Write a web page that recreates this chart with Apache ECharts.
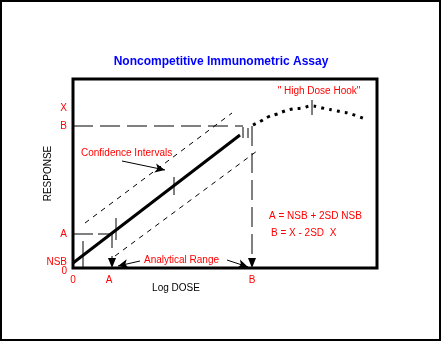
<!DOCTYPE html>
<html><head><meta charset="utf-8">
<script src="https://cdn.jsdelivr.net/npm/echarts@6/dist/echarts.min.js"></script>
<style>html,body{margin:0;padding:0;background:#fff}#c{width:442px;height:342px}</style>
</head><body><div id="c"></div>
<script>
// Axis tick labels (data units of the plot: x = log dose, y = response)
const xTickValues = [0, 36, 179];
const xTickLabels = ['0', 'A', 'B'];
const yTickValues = [0, 6, 34, 142, 160];
const yTickLabels = ['0', 'NSB', 'A', 'B', 'X'];

// Curves
const responseLine = [[0, 5], [167, 133]];
const upperCI = [[12, 45], [159, 155]];
const lowerCI = [[42, 12], [184, 117]];
const hookCurve = [[180, 143], [188, 147], [195, 151], [204, 154], [212, 157], [220, 159], [229, 160],
  [239, 162], [245, 161], [254, 159], [260, 158], [269, 156], [275, 155], [284, 152], [292, 149]];

// Reference levels and drop lines
const levelB = [[0, 142], [170, 142]];
const levelA = [[0, 34], [39, 34]];
const dropA = [[39, 34], [39, 5]];
const dropB = [[179, 142], [179, 5]];

// Error bars: [x, yLow, yHigh]
const errorBars = [[10, 1, 27], [43, 28, 50], [101, 73, 91], [170, 130, 141], [175, 130, 140], [239, 153, 168]];

// Annotation arrows: [fromX, fromY, toX, toY]
const noteArrows = [[49, 107, 92, 98], [67, 7, 45, 2], [154, 8, 175, 1]];

const RED = '#ff0000';
const FONT = '"Liberation Sans", Arial, sans-serif';

const chart = echarts.init(document.getElementById('c'), null, {renderer: 'canvas'});

function lineSeries(data, width, type, extra) {
  return Object.assign({
    type: 'line', data: data, symbol: 'none', silent: true, animation: false,
    lineStyle: {color: '#000', width: width, type: type, cap: 'butt'},
    itemStyle: {color: '#000'}
  }, extra || {});
}

function dropData(d) {
  return [d[0], {value: d[1], symbol: 'triangle', symbolSize: [8, 10], symbolRotate: 180}];
}

const series = [
  lineSeries(responseLine, 3, 'solid', {
    markLine: {
      silent: true, animation: false, symbol: ['none', 'arrow'], symbolSize: [7, 10],
      lineStyle: {color: '#000', width: 1, type: 'solid'}, label: {show: false},
      data: noteArrows.map(a => [{coord: [a[0], a[1]]}, {coord: [a[2], a[3]]}])
    }
  }),
  lineSeries(upperCI, 1, [5, 5]),
  lineSeries(lowerCI, 1, [5, 5]),
  lineSeries(hookCurve, 3, [3, 5], {smooth: true}),
  lineSeries(levelB, 1, [20, 7]),
  lineSeries(levelA, 1, [20, 5]),
  lineSeries(dropData(dropA), 1, [14, 8], {showSymbol: true}),
  lineSeries(dropData(dropB), 1, [20, 7], {showSymbol: true})
];
errorBars.forEach(b => series.push(lineSeries([[b[0], b[1]], [b[0], b[2]]], 1, 'solid')));

const textStyle = (x, y, t, color, extra) => ({
  type: 'text', x: x, y: y, silent: true,
  style: Object.assign({text: t, fill: color, font: '10px ' + FONT, verticalAlign: 'middle'}, extra || {})
});

// Split the y tick labels over two axes so that the close "0" and "NSB" labels are both drawn
const yMainIdx = yTickValues.map((v, i) => i).filter(i => yTickLabels[i] !== 'NSB');
const yAltIdx = yTickValues.map((v, i) => i).filter(i => yTickLabels[i] === 'NSB');
const labelFor = v => yTickLabels[yTickValues.indexOf(v)];

const yAxisBase = (vals, extra) => Object.assign({
  type: 'value', min: 0, max: 189, position: 'left', offset: 0,
  axisLine: {show: false}, axisTick: {show: false}, splitLine: {show: false},
  axisLabel: {
    customValues: vals, color: RED, fontSize: 10, fontFamily: FONT, margin: 6,
    showMinLabel: true, showMaxLabel: true, hideOverlap: false,
    formatter: v => v === 0 ? '{z|0}' : labelFor(v),
    rich: {z: {color: RED, fontSize: 10, fontFamily: FONT, padding: [7, 0, 0, 0]}}
  }
}, extra || {});

chart.setOption({
  animation: false,
  backgroundColor: '#fff',
  title: {
    text: 'Noncompetitive Immunometric Assay', left: 'center', top: 51,
    textStyle: {color: '#0000ff', fontSize: 12, fontWeight: 'bold', fontFamily: FONT}
  },
  grid: {left: 73, top: 79, width: 304, height: 189, show: true, borderColor: '#000', borderWidth: 3, backgroundColor: 'transparent'},
  xAxis: {
    type: 'value', min: 0, max: 304,
    name: 'Log DOSE', nameLocation: 'middle', nameGap: 15, nameMoveOverlap: false,
    nameTextStyle: {color: '#000', fontSize: 10, fontFamily: FONT, padding: [0, 98, 0, 0]},
    axisLine: {show: false}, axisTick: {show: false}, splitLine: {show: false},
    axisLabel: {
      customValues: xTickValues, color: RED, fontSize: 10, fontFamily: FONT, margin: 7,
      showMinLabel: true, showMaxLabel: true, hideOverlap: false,
      formatter: v => xTickLabels[xTickValues.indexOf(v)]
    }
  },
  yAxis: [
    yAxisBase(yMainIdx.map(i => yTickValues[i]), {
      name: 'RESPONSE', nameLocation: 'middle', nameGap: 20, nameMoveOverlap: false,
      nameTextStyle: {color: '#000', fontSize: 10, fontFamily: FONT}
    }),
    yAxisBase(yAltIdx.map(i => yTickValues[i]))
  ],
  series: series,
  graphic: [
    {type: 'rect', silent: true, shape: {x: 1, y: 1, width: 439, height: 339}, style: {fill: 'none', stroke: '#000', lineWidth: 2}},
    textStyle(319, 91, '" High Dose Hook"', RED, {align: 'center'}),
    textStyle(81, 153, 'Confidence Intervals', RED),
    textStyle(144, 260, 'Analytical Range', RED),
    textStyle(269, 216, 'A = NSB + 2SD NSB', RED),
    textStyle(271, 233, 'B = X - 2SD  X', RED)
  ]
});
</script>
</body></html>
